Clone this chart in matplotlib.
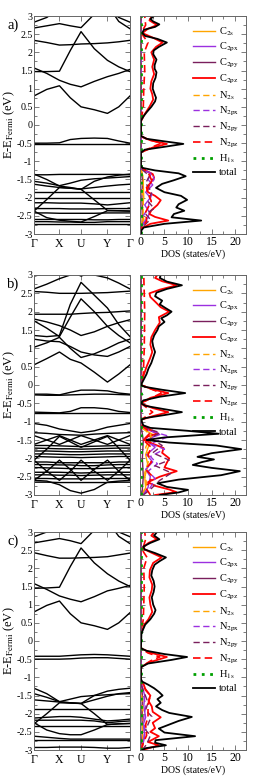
import matplotlib
matplotlib.use("Agg")
from matplotlib import pyplot as plt
from matplotlib.ticker import MultipleLocator, FuncFormatter

plt.rcParams['font.family'] = ['Liberation Serif', 'DejaVu Serif']
plt.rcParams['mathtext.fontset'] = 'stix'
plt.rcParams['axes.unicode_minus'] = False

# k-path (Γ, mid, X, mid, U, mid, Y, mid, Γ)
kpath = [0, 0.133, 0.265, 0.378, 0.49, 0.628, 0.765, 0.883, 1.0]
kticks = [0, 0.265, 0.49, 0.765, 1.0]
klabels = ['Γ', 'X', 'U', 'Y', 'Γ']

# ---------- panel a: bands ----------
a_bands = [
    [2.83, 2.96, 3.2, 3.35, 3.4, 3.35, 3.2, 2.96, 2.83],
    [2.67, 2.73, 2.79, 2.73, 2.68, 3.05, 3.3, 2.85, 2.65],
    [2.33, 2.27, 2.2, 2.21, 2.23, 2.24, 2.26, 2.29, 2.33],
    [1.47, 1.47, 1.48, 2.05, 2.57, 2.1, 1.78, 1.6, 1.47],
    [1.57, 1.42, 1.23, 1.12, 1.05, 1.2, 1.33, 1.42, 1.53],
    [0.8, 0.98, 1.08, 0.75, 0.5, 0.42, 0.32, 0.5, 0.8],
    [-0.5, -0.5, -0.49, -0.4, -0.37, -0.36, -0.37, -0.44, -0.5],
    [-0.51, -0.51, -0.51, -0.51, -0.51, -0.51, -0.51, -0.51, -0.51],
    [-1.37, -1.37, -1.36, -1.36, -1.36, -1.36, -1.36, -1.36, -1.37],
    [-1.35, -1.5, -1.68, -1.72, -1.77, -1.55, -1.43, -1.38, -1.35],
    [-1.55, -1.6, -1.67, -1.6, -1.52, -1.48, -1.46, -1.44, -1.42],
    [-1.63, -1.68, -1.72, -1.74, -1.76, -1.72, -1.68, -1.65, -1.63],
    [-1.84, -1.84, -1.84, -1.84, -1.84, -1.84, -1.84, -1.84, -1.84],
    [-2.37, -2.05, -1.72, -1.74, -1.77, -2.06, -2.35, -2.36, -2.37],
    [-2.37, -2.55, -2.62, -2.65, -2.67, -2.52, -2.36, -2.36, -2.37],
    [-2.14, -2.14, -2.15, -2.15, -2.15, -2.17, -2.2, -2.17, -2.14],
    [-2.02, -2.02, -2.02, -2.02, -2.02, -2.02, -2.02, -2.02, -2.02],
    [-2.3, -2.3, -2.3, -2.31, -2.31, -2.31, -2.3, -2.3, -2.3],
    [-2.42, -2.42, -2.43, -2.43, -2.43, -2.43, -2.42, -2.42, -2.42],
    [-2.6, -2.6, -2.6, -2.6, -2.6, -2.61, -2.61, -2.6, -2.6],
    [-2.66, -2.66, -2.67, -2.67, -2.68, -2.68, -2.66, -2.66, -2.66],
    [-2.72, -2.72, -2.72, -2.72, -2.72, -2.72, -2.72, -2.72, -2.72],
]

# ---------- panel a: DOS (energy, states/eV) ----------
a_total = [(-3.0, 0.0), (-2.9, 0.1), (-2.82, 0.6), (-2.72, 5), (-2.63, 12.8), (-2.54, 6.5),
           (-2.45, 7.0), (-2.36, 9.2), (-2.27, 7.5), (-2.18, 8.0), (-2.06, 9.8), (-1.95, 8.5),
           (-1.85, 5), (-1.73, 3.2), (-1.62, 4.5), (-1.52, 7), (-1.41, 9.5), (-1.33, 8),
           (-1.25, 3), (-1.18, 0.3), (-1.12, 0), (-0.76, 0), (-0.68, 0.8), (-0.6, 5),
           (-0.52, 9), (-0.45, 5), (-0.38, 1.2), (-0.3, 0), (0.12, 0), (0.25, 0.6), (0.35, 1.2),
           (0.5, 2.2), (0.65, 3.0), (0.75, 3.2), (0.85, 2.9), (1.0, 2.5), (1.15, 2.6), (1.3, 3.1),
           (1.45, 3.3), (1.55, 2.9), (1.65, 2.9), (1.8, 3.3), (1.95, 2.6), (2.05, 2.7), (2.15, 3.8),
           (2.27, 5.5), (2.37, 3.5), (2.45, 0.9), (2.53, 0.3), (2.62, 0.6), (2.7, 3.0), (2.77, 3.9),
           (2.85, 2.6), (2.92, 2.0), (3.0, 2.8)]
a_c2pz = [(-3.0, 0), (-2.85, 0), (-2.72, 2), (-2.63, 5.8), (-2.53, 3), (-2.45, 1.8), (-2.35, 2.2),
          (-2.2, 3.5), (-2.07, 4.2), (-1.95, 3), (-1.85, 1.5), (-1.72, 1.2), (-1.6, 2.0), (-1.45, 2.8),
          (-1.35, 2.5), (-1.25, 1), (-1.15, 0), (-0.75, 0), (-0.62, 2.5), (-0.52, 5.5), (-0.42, 2),
          (-0.32, 0), (0.1, 0), (0.3, 0.8), (0.5, 1.8), (0.7, 2.6), (0.85, 2.4), (1.0, 2.0), (1.2, 2.2),
          (1.4, 2.8), (1.6, 2.4), (1.8, 2.8), (2.0, 2.2), (2.15, 3.2), (2.27, 4.6), (2.4, 2.6),
          (2.53, 0.3), (2.65, 1.5), (2.75, 3.4), (2.88, 1.8), (3.0, 2.3)]
a_n2pz = [(-3.0, 0), (-2.85, 0), (-2.65, 1.2), (-2.4, 1.0), (-2.1, 2.2), (-1.8, 1.3), (-1.5, 2.2),
          (-1.3, 1.5), (-1.15, 0), (-0.75, 0), (-0.6, 2.5), (-0.5, 4.3), (-0.4, 1.5), (-0.3, 0),
          (0.1, 0), (0.5, 0.5), (1.0, 0.6), (1.5, 0.8), (2.0, 0.7), (2.27, 1.5), (2.45, 0.5),
          (2.55, 0.1), (2.75, 1.0), (3.0, 0.8)]
a_c2px = [(-3.0, 0), (-2.85, 0), (-2.7, 0.5), (-2.55, 1.5), (-2.4, 1.8), (-2.2, 0.8), (-2.0, 2.0),
          (-1.85, 1.0), (-1.65, 2.5), (-1.5, 1.5), (-1.35, 2.2), (-1.2, 0), (3.0, 0)]
a_n2px = [(-3.0, 0), (-2.85, 0), (-2.65, 1.0), (-2.5, 0.5), (-2.3, 1.5), (-2.1, 1.8), (-1.9, 2.3),
          (-1.7, 1.6), (-1.5, 2.8), (-1.35, 2.5), (-1.2, 0), (3.0, 0)]
a_n2py = [(-3.0, 0), (-2.85, 0), (-2.6, 2.0), (-2.45, 1.0), (-2.3, 2.8), (-2.1, 1.5), (-1.85, 2.3),
          (-1.6, 1.0), (-1.4, 1.8), (-1.2, 0), (3.0, 0)]
a_c2py = [(-3.0, 0), (-2.6, 0.3), (-2.0, 0.2), (-1.5, 0.3), (-1.2, 0), (3.0, 0)]
a_c2s = [(-3.0, 0), (-2.85, 0), (-2.6, 0.6), (-2.3, 0.3), (-2.0, 0.6), (-1.7, 0.5), (-1.4, 0.4),
         (-1.2, 0), (3.0, 0)]
a_n2s = [(-3.0, 0), (-2.85, 0), (-2.5, 0.4), (-2.2, 0.5), (-1.9, 0.3), (-1.5, 0.5), (-1.2, 0), (3.0, 0)]
a_h1s = [(-3.0, 0.05), (3.0, 0.05)]

# ---------- panel b: bands ----------
b_bands = [
    [2.97, 3.05, 3.2, 3.1, 2.97, 3.1, 3.2, 3.08, 2.98],
    [2.62, 2.75, 2.9, 3.0, 3.1, 3.0, 2.92, 2.78, 2.62],
    [2.55, 2.53, 2.5, 2.5, 2.5, 2.51, 2.52, 2.54, 2.56],
    [1.35, 1.32, 1.35, 2.2, 2.8, 2.45, 2.1, 1.65, 1.32],
    [1.75, 1.55, 1.32, 1.85, 2.35, 2.0, 1.6, 1.35, 1.15],
    [1.93, 1.93, 1.93, 1.93, 1.95, 1.97, 1.98, 2.0, 2.02],
    [1.8, 1.72, 1.62, 1.5, 1.35, 1.45, 1.6, 1.7, 1.78],
    [1.25, 1.2, 1.18, 1.05, 0.9, 0.82, 0.78, 0.9, 1.05],
    [1.03, 1.15, 1.3, 1.0, 0.75, 0.85, 1.0, 1.15, 1.25],
    [0.55, 0.72, 0.9, 0.7, 0.6, 0.35, 0.08, 0.3, 0.55],
    [-0.25, -0.25, -0.27, -0.2, -0.14, -0.14, -0.16, -0.22, -0.25],
    [-0.27, -0.28, -0.28, -0.27, -0.26, -0.25, -0.25, -0.26, -0.27],
    [-0.74, -0.75, -0.76, -0.72, -0.62, -0.62, -0.65, -0.72, -0.75],
    [-0.77, -0.77, -0.77, -0.77, -0.77, -0.77, -0.77, -0.77, -0.77],
    [-1.05, -1.1, -1.2, -1.25, -1.3, -1.25, -1.15, -1.1, -1.05],
    [-1.3, -1.32, -1.35, -1.36, -1.37, -1.34, -1.32, -1.31, -1.3],
    [-1.62, -1.5, -1.38, -1.5, -1.62, -1.5, -1.38, -1.5, -1.62],
    [-1.38, -1.5, -1.62, -1.5, -1.38, -1.5, -1.62, -1.5, -1.38],
    [-1.65, -1.65, -1.66, -1.67, -1.68, -1.67, -1.66, -1.65, -1.65],
    [-1.72, -1.73, -1.74, -1.74, -1.75, -1.74, -1.73, -1.72, -1.72],
    [-1.8, -1.8, -1.81, -1.82, -1.82, -1.81, -1.8, -1.8, -1.8],
    [-1.88, -1.88, -1.89, -1.9, -1.9, -1.89, -1.88, -1.88, -1.88],
    [-1.95, -1.96, -1.97, -1.97, -1.98, -1.97, -1.96, -1.95, -1.95],
    [-2.05, -1.75, -1.4, -1.55, -1.7, -1.55, -1.4, -1.72, -2.05],
    [-2.05, -2.35, -2.6, -2.35, -2.05, -2.35, -2.6, -2.35, -2.05],
    [-2.6, -2.35, -2.05, -2.3, -2.6, -2.3, -2.05, -2.35, -2.6],
    [-2.1, -2.1, -2.12, -2.12, -2.12, -2.12, -2.12, -2.1, -2.1],
    [-2.17, -2.17, -2.18, -2.18, -2.2, -2.2, -2.18, -2.17, -2.17],
    [-2.25, -2.26, -2.27, -2.28, -2.28, -2.28, -2.27, -2.26, -2.25],
    [-2.38, -2.38, -2.38, -2.39, -2.4, -2.39, -2.38, -2.38, -2.38],
    [-2.45, -2.45, -2.46, -2.46, -2.47, -2.46, -2.45, -2.45, -2.45],
    [-2.55, -2.55, -2.56, -2.56, -2.56, -2.56, -2.55, -2.55, -2.55],
    [-2.65, -2.65, -2.66, -2.66, -2.66, -2.66, -2.66, -2.65, -2.65],
    [-2.6, -2.62, -2.72, -2.88, -2.95, -2.85, -2.65, -2.62, -2.6],
]

# ---------- panel b: DOS ----------
b_total = [(-3.0, 4), (-2.93, 8), (-2.86, 10), (-2.78, 5.5), (-2.68, 3.5), (-2.58, 8), (-2.46, 17),
           (-2.35, 21), (-2.26, 15), (-2.18, 11), (-2.1, 13), (-2.03, 15.5), (-1.96, 12), (-1.86, 15),
           (-1.75, 21.3), (-1.65, 16), (-1.57, 6), (-1.5, 1.2), (-1.43, 5), (-1.33, 16.5), (-1.25, 10),
           (-1.17, 2), (-1.1, 0.5), (-1.0, 0.2), (-0.95, 0.0), (-0.9, 1), (-0.82, 5), (-0.74, 8.7),
           (-0.66, 5), (-0.57, 1), (-0.5, 0), (-0.42, 0.5), (-0.32, 4), (-0.22, 9.4), (-0.13, 4.5),
           (-0.05, 0.8), (0.0, 0.0), (0.1, 0.4), (0.2, 0.8), (0.3, 1.2), (0.45, 1.6), (0.6, 2.2),
           (0.75, 2.6), (0.9, 3.0), (1.05, 2.6), (1.2, 2.4), (1.35, 2.8), (1.5, 3.5), (1.6, 3.8),
           (1.72, 5.0), (1.82, 4.3), (1.9, 5.5), (2.0, 6.5), (2.1, 5.2), (2.2, 4.0), (2.3, 4.5),
           (2.42, 3.0), (2.52, 3.3), (2.62, 5.5), (2.72, 8.7), (2.82, 5.5), (2.92, 4.0), (3.0, 4.2)]
b_c2pz = [(-3.0, 3), (-2.92, 7.5), (-2.85, 6), (-2.75, 3), (-2.65, 1.5), (-2.5, 4), (-2.35, 7.6),
          (-2.25, 5), (-2.12, 5.5), (-2.0, 6), (-1.85, 4.5), (-1.72, 4.8), (-1.6, 2.5), (-1.5, 0.6),
          (-1.4, 1.5), (-1.32, 3.6), (-1.22, 2), (-1.1, 0.3), (-0.95, 0), (-0.85, 2.5), (-0.74, 5.8),
          (-0.63, 2.5), (-0.5, 0), (-0.35, 2), (-0.22, 5.8), (-0.12, 2.5), (0.0, 0), (0.2, 0.4),
          (0.5, 1.2), (0.75, 2.0), (0.9, 2.4), (1.1, 2.0), (1.3, 2.2), (1.5, 3.0), (1.7, 4.0),
          (1.85, 3.8), (2.0, 6.0), (2.12, 4.2), (2.25, 3.2), (2.4, 2.0), (2.5, 1.8), (2.6, 4.0),
          (2.72, 7.6), (2.83, 4.5), (2.92, 3.0), (3.0, 3.5)]
b_n2pz = [(-3.0, 2), (-2.8, 1), (-2.5, 2.5), (-2.3, 1), (-2.1, 2.2), (-1.9, 1.5), (-1.7, 2.2),
          (-1.5, 0.5), (-1.3, 2.0), (-1.1, 0.2), (-0.95, 0), (-0.74, 2.5), (-0.5, 0), (-0.22, 4.3),
          (0.0, 0), (0.3, 0.5), (1.0, 0.7), (2.0, 0.8), (3.0, 0.6)]
b_c2px = [(-3.0, 0.3), (-2.8, 1.5), (-2.5, 2), (-2.3, 1), (-2.1, 2.5), (-1.9, 1.2), (-1.7, 3),
          (-1.5, 1), (-1.35, 4), (-1.2, 1), (-1.1, 0), (3.0, 0)]
b_n2px = [(-3.0, 0.3), (-2.8, 2), (-2.55, 3), (-2.35, 1.5), (-2.15, 3.5), (-1.95, 2), (-1.75, 5),
          (-1.6, 2), (-1.4, 6), (-1.25, 2), (-1.1, 0), (3.0, 0)]
b_n2py = [(-3.0, 0.5), (-2.85, 2), (-2.6, 4), (-2.4, 6.5), (-2.2, 3), (-2.05, 6), (-1.85, 2.5),
          (-1.65, 4.5), (-1.45, 2), (-1.3, 4), (-1.15, 0.5), (-1.05, 0), (3.0, 0)]
b_c2py = [(-3.0, 0.2), (-2.5, 0.5), (-2.0, 0.3), (-1.5, 0.5), (-1.1, 0), (3.0, 0)]
b_c2s = [(-3.0, 0.2), (-2.8, 1), (-2.5, 0.8), (-2.2, 1.5), (-1.9, 1), (-1.6, 1.8), (-1.35, 2.5),
         (-1.2, 0.5), (-1.1, 0), (3.0, 0)]
b_n2s = [(-3.0, 0.3), (-2.7, 1.2), (-2.4, 0.8), (-2.0, 1.8), (-1.7, 1), (-1.4, 2.2), (-1.15, 0.3),
         (-1.05, 0), (3.0, 0)]
b_h1s = [(-3.0, 0.05), (3.0, 0.05)]

# ---------- panel c: bands ----------
c_bands = [
    [2.87, 3.0, 3.2, 3.35, 3.4, 3.35, 3.2, 3.0, 2.87],
    [2.7, 2.76, 2.82, 2.76, 2.68, 3.05, 3.3, 2.88, 2.68],
    [2.43, 2.35, 2.28, 2.28, 2.29, 2.3, 2.32, 2.37, 2.42],
    [1.45, 1.46, 1.48, 2.05, 2.56, 2.15, 1.85, 1.65, 1.5],
    [1.58, 1.42, 1.24, 1.15, 1.08, 1.22, 1.38, 1.45, 1.53],
    [0.8, 0.98, 1.1, 0.75, 0.5, 0.42, 0.32, 0.5, 0.78],
    [-0.42, -0.42, -0.42, -0.4, -0.38, -0.37, -0.38, -0.4, -0.42],
    [-0.5, -0.5, -0.5, -0.49, -0.47, -0.46, -0.46, -0.48, -0.5],
    [-1.3, -1.45, -1.67, -1.7, -1.72, -1.5, -1.38, -1.33, -1.3],
    [-1.45, -1.55, -1.67, -1.6, -1.53, -1.5, -1.48, -1.46, -1.45],
    [-1.62, -1.65, -1.68, -1.7, -1.72, -1.62, -1.52, -1.45, -1.42],
    [-1.88, -1.88, -1.88, -1.88, -1.88, -1.88, -1.88, -1.88, -1.88],
    [-2.28, -2.0, -1.7, -1.71, -1.72, -2.0, -2.3, -2.28, -2.27],
    [-2.25, -2.45, -2.55, -2.58, -2.58, -2.45, -2.3, -2.28, -2.27],
    [-2.12, -2.1, -2.08, -2.08, -2.1, -2.15, -2.2, -2.18, -2.15],
    [-2.18, -2.18, -2.18, -2.18, -2.18, -2.2, -2.25, -2.22, -2.2],
    [-2.35, -2.35, -2.35, -2.35, -2.35, -2.35, -2.35, -2.35, -2.35],
    [-2.62, -2.65, -2.68, -2.7, -2.7, -2.7, -2.7, -2.7, -2.7],
    [-2.72, -2.72, -2.72, -2.72, -2.72, -2.72, -2.72, -2.72, -2.72],
    [-2.93, -2.93, -2.92, -2.92, -2.92, -2.93, -2.95, -2.95, -2.93],
]

# ---------- panel c: DOS ----------
c_total = [(-3.0, 0.3), (-2.95, 1), (-2.87, 5.3), (-2.8, 3), (-2.73, 3.1), (-2.62, 11.5), (-2.52, 5),
           (-2.41, 3.8), (-2.3, 6), (-2.2, 8), (-2.09, 10.8), (-1.98, 6), (-1.9, 4.5), (-1.8, 3.2),
           (-1.7, 4.2), (-1.6, 3.5), (-1.5, 4.6), (-1.4, 3.8), (-1.3, 2.8), (-1.2, 1.5), (-1.12, 0.3),
           (-1.05, 0), (-0.72, 0), (-0.62, 1.5), (-0.52, 6.5), (-0.44, 9.8), (-0.36, 5), (-0.27, 1.2),
           (-0.2, 0), (0.2, 0.1), (0.3, 0.4), (0.45, 0.9), (0.6, 2.0), (0.75, 2.8), (0.85, 3.1),
           (1.0, 2.6), (1.2, 2.3), (1.35, 2.7), (1.5, 2.9), (1.65, 2.7), (1.8, 2.2), (1.95, 2.4),
           (2.1, 2.9), (2.2, 4.0), (2.3, 5.3), (2.42, 3.0), (2.52, 0.8), (2.6, 0.5), (2.7, 2.0),
           (2.8, 3.9), (2.9, 2.8), (3.0, 3.4)]
c_c2pz = [(-3.0, 0.3), (-2.87, 3.8), (-2.78, 1.5), (-2.62, 3.8), (-2.5, 2.0), (-2.4, 3.0),
          (-2.25, 2.5), (-2.1, 4.2), (-1.95, 2.5), (-1.8, 2.3), (-1.65, 1.6), (-1.5, 2.0), (-1.35, 1.0),
          (-1.2, 0.6), (-1.1, 0), (-0.72, 0), (-0.6, 1.5), (-0.44, 5.5), (-0.32, 2), (-0.2, 0),
          (0.2, 0), (0.45, 0.7), (0.6, 1.6), (0.8, 2.4), (1.0, 2.0), (1.2, 1.8), (1.4, 2.3),
          (1.55, 2.4), (1.75, 1.8), (1.95, 1.9), (2.15, 2.6), (2.3, 4.4), (2.42, 2.4), (2.55, 0.3),
          (2.7, 1.6), (2.8, 3.4), (2.9, 2.2), (3.0, 2.8)]
c_n2pz = [(-3.0, 0), (-2.8, 0.5), (-2.6, 1.2), (-2.3, 1.0), (-2.1, 1.5), (-1.75, 1.5), (-1.5, 2.0),
          (-1.3, 0.8), (-1.1, 0), (-0.72, 0), (-0.55, 2.0), (-0.44, 4.0), (-0.33, 1.5), (-0.2, 0),
          (0.2, 0), (0.6, 0.5), (1.0, 0.6), (1.5, 0.7), (2.0, 0.6), (2.3, 1.3), (2.5, 0.3),
          (2.8, 1.0), (3.0, 0.8)]
c_c2px = [(-3.0, 0), (-2.8, 0.5), (-2.6, 0.8), (-2.3, 0.5), (-2.1, 1.0), (-1.8, 0.6), (-1.5, 0.8),
          (-1.2, 0.2), (-1.1, 0), (3.0, 0)]
c_n2px = [(-3.0, 0), (-2.7, 0.6), (-2.4, 0.8), (-2.1, 0.6), (-1.8, 1.0), (-1.5, 0.6), (-1.2, 0),
          (3.0, 0)]
c_n2py = [(-3.0, 0.2), (-2.85, 1.2), (-2.6, 2.0), (-2.45, 1.0), (-2.2, 1.8), (-2.08, 2.3),
          (-1.9, 1.0), (-1.7, 1.5), (-1.45, 0.8), (-1.2, 0), (3.0, 0)]
c_c2py = [(-3.0, 0), (-2.5, 0.3), (-2.0, 0.2), (-1.5, 0.3), (-1.1, 0), (3.0, 0)]
c_c2s = [(-3.0, 0), (-2.85, 0.5), (-2.6, 0.3), (-2.3, 0.5), (-2.0, 0.3), (-1.6, 0.4), (-1.2, 0),
         (3.0, 0)]
c_n2s = [(-3.0, 0), (-2.7, 0.4), (-2.4, 0.3), (-2.1, 0.5), (-1.7, 0.3), (-1.2, 0), (3.0, 0)]
c_h1s = [(-3.0, 0.05), (3.0, 0.05)]

orbital_labels = [r'C$_{\rm 2s}$', r'C$_{\rm 2px}$', r'C$_{\rm 2py}$', r'C$_{\rm 2pz}$',
                  r'N$_{\rm 2s}$', r'N$_{\rm 2px}$', r'N$_{\rm 2py}$', r'N$_{\rm 2pz}$',
                  r'H$_{\rm 1s}$', 'total']
orbital_colors = ['#ffa500', '#9b30e0', '#7a1f5c', '#ff0000',
                  '#ffa500', '#9b30e0', '#7a1f5c', '#ff0000', '#00a000', 'black']
dash = (0, (4.5, 2.5))
orbital_styles = ['-', '-', '-', '-', dash, dash, dash, dash, (0, (1, 2)), '-']
orbital_widths = [1.0, 1.0, 1.0, 1.3, 1.0, 1.0, 1.0, 1.2, 2.0, 1.3]

panels = [
    ('a)', 16, 218, a_bands, [a_c2s, a_c2px, a_c2py, a_c2pz, a_n2s, a_n2px, a_n2py, a_n2pz, a_h1s, a_total]),
    ('b)', 275, 220, b_bands, [b_c2s, b_c2px, b_c2py, b_c2pz, b_n2s, b_n2px, b_n2py, b_n2pz, b_h1s, b_total]),
    ('c)', 532, 218, c_bands, [c_c2s, c_c2px, c_c2py, c_c2pz, c_n2s, c_n2px, c_n2py, c_n2pz, c_h1s, c_total]),
]

W, H = 256, 779
fig = plt.figure(figsize=(W / 100, H / 100), dpi=100)
spine_col = '#666666'
fmt = FuncFormatter(lambda v, p: '%g' % v)

for tag, top, height, bands, dos in panels:
    bottom = 1 - (top + height) / H
    h = height / H

    # band structure
    ax = fig.add_axes([34 / W, bottom, 96 / W, h])
    for band in bands:
        ax.plot(kpath, band, color='black', lw=1.0)
    ax.set_xlim(0, 1)
    ax.set_ylim(-3, 3)
    ax.set_xticks(kticks)
    ax.set_xticklabels(klabels, fontsize=8.5)
    ax.yaxis.set_major_locator(MultipleLocator(0.5))
    ax.yaxis.set_minor_locator(MultipleLocator(0.25))
    ax.yaxis.set_major_formatter(fmt)
    ax.tick_params(axis='both', which='both', direction='in', top=True, right=True,
                   color=spine_col, width=0.6)
    ax.tick_params(axis='y', which='major', length=3.5, labelsize=7.2, pad=1)
    ax.tick_params(axis='y', which='minor', length=2)
    ax.tick_params(axis='x', length=3.5, pad=3)
    for s in ax.spines.values():
        s.set_color(spine_col)
        s.set_linewidth(0.7)
    ax.set_ylabel(r'E-E$_{\rm Fermi}$ (eV)', fontsize=9)
    ax.yaxis.set_label_coords(-0.175, 0.5)
    fig.text(7 / W, 1 - (top + 9) / H, tag, fontsize=10.5, va='center', ha='left')

    # DOS
    ax2 = fig.add_axes([140 / W, bottom, 106 / W, h])
    lines = []
    for curve, col, ls, lw in zip(dos, orbital_colors, orbital_styles, orbital_widths):
        e = [p[0] for p in curve]
        v = [p[1] for p in curve]
        ln, = ax2.plot(v, e, color=col, linestyle=ls, lw=lw)
        lines.append(ln)
    ax2.set_xlim(-0.2, 22.3)
    ax2.set_ylim(-3, 3)
    ax2.xaxis.set_major_locator(MultipleLocator(5))
    ax2.xaxis.set_minor_locator(MultipleLocator(2.5))
    ax2.yaxis.set_major_locator(MultipleLocator(0.5))
    ax2.yaxis.set_minor_locator(MultipleLocator(0.25))
    ax2.set_yticklabels([])
    ax2.tick_params(axis='both', which='both', direction='in', top=True, right=True,
                    color=spine_col, width=0.6)
    ax2.tick_params(axis='both', which='major', length=3.5, labelsize=8.5, pad=1.5)
    ax2.tick_params(axis='both', which='minor', length=2)
    for s in ax2.spines.values():
        s.set_color(spine_col)
        s.set_linewidth(0.7)
    ax2.set_xlabel('DOS (states/eV)', fontsize=7, labelpad=1)
    ax2.legend(lines, orbital_labels, loc='upper left', bbox_to_anchor=(0.5, 0.955),
               frameon=False, fontsize=7.5, handlelength=2.1, handletextpad=0.4,
               labelspacing=0.28, borderaxespad=0, borderpad=0)

fig.savefig('out.png', dpi=100)
